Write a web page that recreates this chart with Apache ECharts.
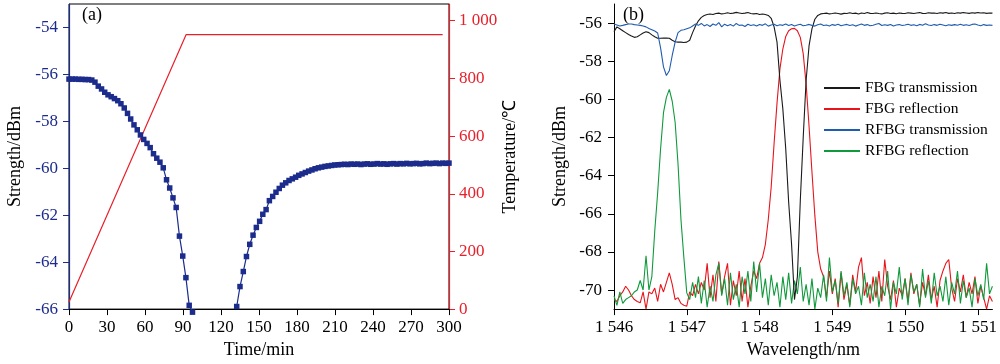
<!DOCTYPE html>
<html><head><meta charset="utf-8">
<script src="https://cdn.jsdelivr.net/npm/echarts@6/dist/echarts.min.js"></script>
<style>html,body{margin:0;padding:0;background:#fff}#c{width:1000px;height:364px}</style>
</head><body><div id="c"></div>
<script>
// ---------- Panel (a) ----------
const timeTicksA = [0,30,60,90,120,150,180,210,240,270,300];
const strengthTicksA = [-66,-64,-62,-60,-58,-56,-54];
const tempTicksA = [0,200,400,600,800,1000];
// strength during heating (time/min, dBm)
const strengthFall = [
 [0,-56.20],[2.6,-56.20],[5.1,-56.20],[7.7,-56.21],[10.3,-56.21],[12.8,-56.22],[15.4,-56.22],[18.0,-56.24],
 [20.5,-56.33],[23.1,-56.50],[25.7,-56.62],[28.2,-56.76],[30.8,-56.87],[33.3,-56.95],[35.9,-57.03],[38.5,-57.12],
 [41.0,-57.25],[43.6,-57.43],[46.2,-57.66],[48.7,-57.90],[51.3,-58.15],[53.9,-58.36],[56.4,-58.58],[59.0,-58.77],
 [61.6,-58.94],[64.1,-59.12],[66.7,-59.38],[69.3,-59.57],[71.8,-59.74],[74.4,-59.98],[77.0,-60.49],[79.5,-60.84],
 [82.1,-61.26],[84.6,-61.67],[87.2,-62.89],[89.8,-63.74],[92.3,-64.66],[94.9,-65.84],[97.5,-66.13]
];
// strength during regeneration / dwell
const strengthRise = [
 [132.4,-65.89],[135.0,-65.04],[137.6,-64.40],[140.1,-63.76],[142.7,-63.24],[145.3,-62.85],[147.9,-62.52],[150.5,-62.26],
 [153.0,-61.96],[155.6,-61.76],[158.2,-61.38],[160.8,-61.20],[163.4,-61.02],[166.0,-60.86],[168.5,-60.72],[171.1,-60.62],
 [173.7,-60.52],[176.3,-60.45],[178.9,-60.38],[181.4,-60.30],[184.0,-60.24],[186.6,-60.18],[189.2,-60.12],[191.8,-60.07],
 [194.3,-60.02],[196.9,-59.98],[199.5,-59.95],[202.1,-59.92],[204.7,-59.90],[207.3,-59.88],[209.8,-59.86],[212.4,-59.85],
 [215.0,-59.84],[217.6,-59.83],[220.2,-59.84],[222.7,-59.82],[225.3,-59.83],[227.9,-59.82],[230.5,-59.84],[233.1,-59.82],
 [235.6,-59.81],[238.2,-59.83],[240.8,-59.82],[243.4,-59.80],[246.0,-59.82],[248.6,-59.81],[251.1,-59.83],[253.7,-59.81],
 [256.3,-59.80],[258.9,-59.82],[261.5,-59.80],[264.0,-59.81],[266.6,-59.79],[269.2,-59.81],[271.8,-59.80],[274.4,-59.79],
 [276.9,-59.81],[279.5,-59.80],[282.1,-59.78],[284.7,-59.80],[287.3,-59.79],[289.9,-59.78],[292.4,-59.80],[295.0,-59.78],
 [297.6,-59.79],[300.0,-59.78]
];
const tempTime = [0, 92.5, 295];
const tempValue = [25, 952, 952];

// ---------- Panel (b) ----------
const wlTicksB = [1546,1547,1548,1549,1550,1551];
const strengthTicksB = [-70,-68,-66,-64,-62,-60,-58,-56];
const wavelength = [
 1546.00,1546.04,1546.08,1546.12,1546.16,1546.20,1546.24,1546.28,1546.32,1546.36,
 1546.40,1546.44,1546.48,1546.52,1546.56,1546.60,1546.64,1546.68,1546.72,1546.76,
 1546.80,1546.84,1546.88,1546.92,1546.96,1547.00,1547.04,1547.08,1547.12,1547.16,
 1547.20,1547.24,1547.28,1547.32,1547.36,1547.40,1547.44,1547.48,1547.52,1547.56,
 1547.60,1547.64,1547.68,1547.72,1547.76,1547.80,1547.84,1547.88,1547.92,1547.96,
 1548.00,1548.04,1548.08,1548.12,1548.16,1548.20,1548.24,1548.28,1548.32,1548.36,
 1548.40,1548.44,1548.48,1548.52,1548.56,1548.60,1548.64,1548.68,1548.72,1548.76,
 1548.80,1548.84,1548.88,1548.92,1548.96,1549.00,1549.04,1549.08,1549.12,1549.16,
 1549.20,1549.24,1549.28,1549.32,1549.36,1549.40,1549.44,1549.48,1549.52,1549.56,
 1549.60,1549.64,1549.68,1549.72,1549.76,1549.80,1549.84,1549.88,1549.92,1549.96,
 1550.00,1550.04,1550.08,1550.12,1550.16,1550.20,1550.24,1550.28,1550.32,1550.36,
 1550.40,1550.44,1550.48,1550.52,1550.56,1550.60,1550.64,1550.68,1550.72,1550.76,
 1550.80,1550.84,1550.88,1550.92,1550.96,1551.00,1551.04,1551.08,1551.12,1551.16,
 1551.20
];
const fbgTransmission = [
 -56.45,-56.2,-56.3,-56.4,-56.5,-56.6,-56.68,-56.75,-56.72,-56.62,
 -56.52,-56.45,-56.5,-56.62,-56.72,-56.8,-56.8,-56.78,-56.79,-56.8,
 -56.9,-56.98,-57.0,-57.0,-57.02,-57.0,-56.9,-56.5,-56.15,-55.88,
 -55.7,-55.6,-55.55,-55.52,-55.55,-55.5,-55.48,-55.52,-55.5,-55.46,
 -55.5,-55.48,-55.44,-55.47,-55.5,-55.48,-55.45,-55.5,-55.52,-55.5,
 -55.55,-55.52,-55.55,-55.6,-55.75,-56.2,-57.0,-59.0,-60.5,-62.6,
 -65.4,-67.6,-70.5,-69.3,-65.3,-62.0,-59.0,-57.2,-56.3,-55.8,
 -55.6,-55.52,-55.5,-55.48,-55.52,-55.5,-55.47,-55.5,-55.53,-55.49,
 -55.5,-55.46,-55.5,-55.48,-55.52,-55.47,-55.5,-55.45,-55.49,-55.5,
 -55.47,-55.5,-55.52,-55.48,-55.46,-55.5,-55.48,-55.51,-55.47,-55.49,
 -55.5,-55.46,-55.48,-55.5,-55.47,-55.45,-55.49,-55.5,-55.46,-55.48,
 -55.47,-55.5,-55.46,-55.48,-55.45,-55.49,-55.47,-55.5,-55.46,-55.48,
 -55.45,-55.47,-55.49,-55.46,-55.48,-55.45,-55.47,-55.46,-55.49,-55.47,
 -55.48
];
const fbgReflection = [
 -70.5,-70.6,-70.3,-70.1,-69.8,-70.0,-70.3,-70.5,-70.6,-70.67,
 -70.1,-71.0,-70.1,-70.2,-69.9,-70.6,-69.7,-70.1,-69.6,-69.1,
 -69.7,-70.5,-70.4,-70.7,-70.8,-70.85,-70.1,-70.3,-69.7,-70.2,
 -69.6,-70.0,-68.6,-70.4,-69.2,-70.6,-68.5,-70.2,-69.3,-68.6,
 -70.8,-69.5,-70.3,-69.0,-70.6,-69.4,-70.9,-69.8,-69.0,-69.4,
 -68.6,-68.3,-67.6,-66.3,-64.6,-62.3,-60.2,-58.4,-57.36,-56.7,
 -56.4,-56.3,-56.28,-56.4,-56.75,-57.6,-59.2,-61.4,-63.8,-66.1,
 -68.0,-68.9,-69.3,-70.4,-69.0,-70.2,-69.4,-70.9,-69.1,-70.5,
 -69.7,-70.8,-69.2,-70.1,-68.8,-68.3,-70.3,-69.6,-70.7,-69.3,
 -70.4,-69.0,-70.6,-68.4,-69.8,-70.5,-69.5,-70.9,-69.9,-70.3,
 -69.4,-70.6,-69.1,-70.2,-69.7,-70.8,-69.6,-70.3,-69.2,-70.5,
 -69.8,-70.9,-69.5,-69.0,-68.6,-68.4,-69.9,-70.6,-69.4,-70.1,
 -69.2,-70.4,-69.6,-70.2,-69.3,-70.7,-69.8,-70.4,-71.0,-70.3,
 -70.6
];
const rfbgTransmission = [
 -56.05,-56.1,-56.15,-56.12,-56.08,-56.05,-56.05,-56.08,-56.1,-56.12,
 -56.15,-56.2,-56.28,-56.35,-56.42,-56.52,-57.3,-58.3,-58.75,-58.5,
 -57.7,-57.0,-56.5,-56.38,-56.35,-56.3,-56.25,-56.15,-56.05,-56.12,
 -56.02,-56.15,-56.08,-56.18,-56.05,-56.12,-55.98,-56.2,-56.06,-56.14,
 -56.08,-56.16,-56.02,-56.12,-56.1,-56.18,-56.06,-56.13,-56.09,-56.15,
 -56.07,-56.12,-56.04,-56.16,-56.1,-56.06,-56.14,-56.09,-56.12,-56.05,
 -56.13,-56.08,-56.15,-56.1,-56.06,-56.14,-56.11,-56.07,-56.12,-56.16,
 -56.09,-56.05,-56.13,-56.1,-56.15,-56.08,-56.12,-56.06,-56.14,-56.1,
 -56.07,-56.13,-56.09,-56.16,-56.1,-56.05,-56.12,-56.08,-56.14,-56.11,
 -56.06,-56.02,-56.13,-56.09,-56.12,-56.07,-56.15,-56.1,-56.08,-56.13,
 -56.1,-56.06,-56.12,-56.09,-56.14,-56.07,-56.11,-56.03,-56.1,-56.13,
 -56.08,-56.12,-56.06,-56.1,-56.14,-56.09,-56.12,-56.08,-56.11,-56.06,
 -56.12,-56.09,-56.13,-56.07,-56.05,-56.1,-56.14,-56.08,-56.12,-56.1,
 -56.12
];
const rfbgReflection = [
 -70.3,-70.8,-70.1,-70.7,-70.5,-70.4,-70.3,-70.1,-70.0,-69.5,
 -70.0,-68.2,-70.0,-69.3,-66.9,-64.9,-62.6,-60.7,-59.9,-59.48,
 -60.1,-61.2,-63.4,-66.3,-68.3,-70.15,-70.5,-69.6,-70.4,-69.3,
 -70.7,-69.5,-70.9,-69.8,-70.6,-69.2,-68.6,-70.3,-69.4,-70.8,
 -69.1,-70.5,-69.7,-70.9,-69.3,-70.2,-69.0,-70.6,-68.5,-70.1,
 -68.6,-70.4,-69.4,-70.8,-69.2,-70.3,-69.6,-70.9,-69.3,-70.5,
 -69.1,-70.7,-69.5,-70.2,-68.8,-70.6,-69.7,-70.8,-69.4,-71.0,
 -69.9,-70.4,-69.2,-70.6,-68.3,-70.1,-69.5,-70.7,-69.0,-70.3,
 -69.6,-70.9,-69.4,-70.2,-69.8,-70.8,-69.1,-70.4,-69.7,-70.6,
 -69.3,-70.9,-69.8,-70.3,-69.0,-71.0,-69.6,-70.2,-68.8,-70.5,
 -69.4,-70.8,-69.2,-70.1,-69.7,-70.9,-68.9,-70.4,-69.5,-70.7,
 -69.1,-70.3,-69.8,-70.6,-69.3,-70.8,-69.6,-70.2,-69.0,-70.7,
 -69.5,-70.4,-69.9,-70.9,-69.4,-70.3,-69.7,-70.5,-68.6,-70.2,
 -69.8
];

const FONT = '"Liberation Serif","Times New Roman",serif';
const NAVY = '#1c2c8c', RED = '#e8202a';
const thousands = v => { const s = String(Math.round(v)); return (s.length > 3 && s[0] !== '-') ? s.slice(0, -3) + ' ' + s.slice(-3) : s; };
const pair = (arr) => wavelength.map((w, i) => [w, arr[i]]);

const lbl = (color, extra) => Object.assign({ color, fontSize: 17, fontFamily: FONT }, extra || {});
const nameStyle = { color: '#000', fontSize: 18, fontFamily: FONT };

const chart = echarts.init(document.getElementById('c'), null, { renderer: 'canvas' });
chart.setOption({
  animation: false,
  backgroundColor: '#fff',
  grid: [
    { left: 69, top: 4, width: 380, height: 307, show: true, borderColor: '#000', borderWidth: 1, backgroundColor: 'transparent' },
    { left: 614, top: 4, width: 380, height: 307 }
  ],
  xAxis: [
    { gridIndex: 0, type: 'value', min: 0, max: 300, interval: 30,
      axisLine: { show: true, onZero: false, lineStyle: { color: '#000', width: 1 } },
      axisTick: { show: true, inside: false, length: 6, lineStyle: { color: '#000' } },
      axisLabel: lbl('#000', { margin: 10 }), splitLine: { show: false },
      name: 'Time/min', nameLocation: 'middle', nameGap: 30, nameTextStyle: nameStyle },
    { gridIndex: 1, type: 'value', min: 1546, max: 1551.2,
      axisLine: { show: true, onZero: false, lineStyle: { color: '#000', width: 1 } },
      axisTick: { show: true, inside: false, length: 6, customValues: wlTicksB, lineStyle: { color: '#000' } },
      axisLabel: lbl('#000', { margin: 10, customValues: wlTicksB, formatter: thousands }), splitLine: { show: false },
      name: 'Wavelength/nm', nameLocation: 'middle', nameGap: 30, nameTextStyle: nameStyle }
  ],
  yAxis: [
    { gridIndex: 0, type: 'value', min: -66, max: -53, position: 'left',
      axisLine: { show: true, onZero: false, lineStyle: { color: NAVY, width: 1.2 } },
      axisTick: { show: true, inside: false, length: 6, customValues: strengthTicksA, lineStyle: { color: NAVY } },
      axisLabel: lbl(NAVY, { margin: 11, customValues: strengthTicksA }), splitLine: { show: false },
      name: 'Strength/dBm', nameLocation: 'middle', nameGap: 45, nameTextStyle: nameStyle },
    { gridIndex: 0, type: 'value', min: 0, max: 1058, position: 'right',
      axisLine: { show: true, onZero: false, lineStyle: { color: RED, width: 1.2 } },
      axisTick: { show: true, inside: false, length: 6, customValues: tempTicksA, lineStyle: { color: RED } },
      axisLabel: lbl(RED, { margin: 10, customValues: tempTicksA, formatter: thousands }), splitLine: { show: false },
      name: 'Temperature/℃', nameLocation: 'middle', nameGap: 40, nameTextStyle: nameStyle },
    { gridIndex: 1, type: 'value', min: -71, max: -55, position: 'left',
      axisLine: { show: true, onZero: false, lineStyle: { color: '#000', width: 1 } },
      axisTick: { show: true, inside: false, length: 6, customValues: strengthTicksB, lineStyle: { color: '#000' } },
      axisLabel: lbl('#000', { margin: 12, customValues: strengthTicksB }), splitLine: { show: false },
      name: 'Strength/dBm', nameLocation: 'middle', nameGap: 45, nameTextStyle: nameStyle }
  ],
  legend: {
    left: 819, top: 75, orient: 'vertical', icon: 'rect', itemWidth: 36, itemHeight: 2, itemGap: 5,
    textStyle: { fontFamily: FONT, fontSize: 15.5, color: '#000' },
    data: ['FBG transmission', 'FBG reflection', 'RFBG transmission', 'RFBG reflection']
  },
  graphic: [
    { type: 'text', left: 82, top: 6, style: { text: '(a)', font: '18px ' + FONT, fill: '#000' } },
    { type: 'text', left: 623, top: 6, style: { text: '(b)', font: '18px ' + FONT, fill: '#000' } }
  ],
  series: [
    { name: 'Temperature', type: 'line', xAxisIndex: 0, yAxisIndex: 1, symbol: 'none', z: 2,
      data: tempTime.map((t, i) => [t, tempValue[i]]), lineStyle: { color: RED, width: 1.2 }, itemStyle: { color: RED } },
    { name: 'Strength', type: 'line', xAxisIndex: 0, yAxisIndex: 0, symbol: 'rect', symbolSize: 5.5, clip: false, z: 3,
      data: strengthFall, lineStyle: { color: NAVY, width: 1.2 }, itemStyle: { color: NAVY } },
    { name: 'Strength2', type: 'line', xAxisIndex: 0, yAxisIndex: 0, symbol: 'rect', symbolSize: 5.5, clip: false, z: 3,
      data: strengthRise, lineStyle: { color: NAVY, width: 1.2 }, itemStyle: { color: NAVY } },
    { name: 'FBG reflection', type: 'line', xAxisIndex: 1, yAxisIndex: 2, symbol: 'none', z: 2,
      data: pair(fbgReflection), lineStyle: { color: '#e8141c', width: 1.1 }, itemStyle: { color: '#e8141c' } },
    { name: 'RFBG reflection', type: 'line', xAxisIndex: 1, yAxisIndex: 2, symbol: 'none', z: 3,
      data: pair(rfbgReflection), lineStyle: { color: '#109a3c', width: 1.1 }, itemStyle: { color: '#109a3c' } },
    { name: 'FBG transmission', type: 'line', xAxisIndex: 1, yAxisIndex: 2, symbol: 'none', z: 4,
      data: pair(fbgTransmission), lineStyle: { color: '#1a1a1a', width: 1.1 }, itemStyle: { color: '#1a1a1a' } },
    { name: 'RFBG transmission', type: 'line', xAxisIndex: 1, yAxisIndex: 2, symbol: 'none', z: 5,
      data: pair(rfbgTransmission), lineStyle: { color: '#1f5cb0', width: 1.1 }, itemStyle: { color: '#1f5cb0' } }
  ]
});
</script>
</body></html>
